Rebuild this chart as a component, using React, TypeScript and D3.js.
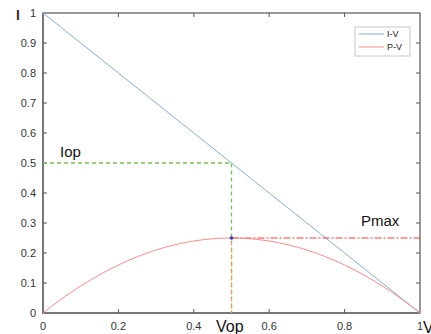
import React, { useRef, useEffect } from "react";
import * as d3 from "d3";

// voltage samples (x) and readings
const voltage = [0, 0.05, 0.1, 0.15, 0.2, 0.25, 0.3, 0.35, 0.4, 0.45, 0.5, 0.55, 0.6, 0.65, 0.7, 0.75, 0.8, 0.85, 0.9, 0.95, 1];
const currentIV = [1, 0.95, 0.9, 0.85, 0.8, 0.75, 0.7, 0.65, 0.6, 0.55, 0.5, 0.45, 0.4, 0.35, 0.3, 0.25, 0.2, 0.15, 0.1, 0.05, 0];
const powerPV = [0, 0.0475, 0.09, 0.1275, 0.16, 0.1875, 0.21, 0.2275, 0.24, 0.2475, 0.25, 0.2475, 0.24, 0.2275, 0.21, 0.1875, 0.16, 0.1275, 0.09, 0.0475, 0];
const xTicks = [0, 0.2, 0.4, 0.6, 0.8, 1];
const yTicks = [0, 0.1, 0.2, 0.3, 0.4, 0.5, 0.6, 0.7, 0.8, 0.9, 1];
const seriesNames = ["I-V", "P-V"];
const vop = 0.5;
const iop = 0.5;
const pmax = 0.25;

const W = 431;
const H = 334;

export default function App() {
  const ref = useRef<SVGSVGElement>(null);

  useEffect(() => {
    const svg = d3.select(ref.current);
    svg.selectAll("*").remove();

    const x = d3.scaleLinear().domain([0, 1]).range([43, 420]);
    const y = d3.scaleLinear().domain([0, 1]).range([313, 13]);
    const font = "'Liberation Sans', Arial, sans-serif";

    // box
    svg.append("rect")
      .attr("x", x(0)).attr("y", y(1))
      .attr("width", x(1) - x(0)).attr("height", y(0) - y(1))
      .attr("fill", "white").attr("stroke", "#555").attr("stroke-width", 1.2);
    // heavier left/bottom axes
    svg.append("path")
      .attr("d", `M${x(0)},${y(1)}V${y(0)}H${x(1)}`)
      .attr("fill", "none").attr("stroke", "#777").attr("stroke-width", 2);

    // ticks (inward) and labels
    xTicks.forEach((t) => {
      if (t > 0 && t < 1) {
        svg.append("line").attr("x1", x(t)).attr("x2", x(t)).attr("y1", y(0)).attr("y2", y(0) - 4).attr("stroke", "#555");
        svg.append("line").attr("x1", x(t)).attr("x2", x(t)).attr("y1", y(1)).attr("y2", y(1) + 4).attr("stroke", "#555");
      }
      svg.append("text")
        .attr("x", x(t)).attr("y", y(0) + 17)
        .attr("text-anchor", "middle").attr("font-family", font)
        .attr("font-size", 11).attr("fill", "#333")
        .text(d3.format("~g")(t));
    });
    yTicks.forEach((t) => {
      if (t > 0 && t < 1) {
        svg.append("line").attr("x1", x(0)).attr("x2", x(0) + 4).attr("y1", y(t)).attr("y2", y(t)).attr("stroke", "#555");
        svg.append("line").attr("x1", x(1)).attr("x2", x(1) - 4).attr("y1", y(t)).attr("y2", y(t)).attr("stroke", "#555");
      }
      svg.append("text")
        .attr("x", 36).attr("y", y(t)).attr("dy", "0.35em")
        .attr("text-anchor", "end").attr("font-family", font)
        .attr("font-size", 11).attr("fill", "#333")
        .text(d3.format("~g")(t));
    });

    const line = d3.line<number>().x((d, i) => x(voltage[i])).y((d) => y(d));

    // I-V
    svg.append("path").attr("d", line(currentIV)).attr("fill", "none")
      .attr("stroke", "#88acd8").attr("stroke-width", 1);

    // guides
    svg.append("path")
      .attr("d", `M${x(0)},${y(iop)}H${x(vop)}V${y(0)}`)
      .attr("fill", "none").attr("stroke", "#7cbf5a").attr("stroke-width", 1.3)
      .attr("stroke-dasharray", "4,3");
    svg.append("line")
      .attr("x1", x(vop)).attr("x2", x(vop)).attr("y1", y(pmax)).attr("y2", y(0))
      .attr("stroke", "#f0a070").attr("stroke-width", 1.3)
      .attr("stroke-dasharray", "4,3").attr("stroke-dashoffset", 3.5);
    svg.append("line")
      .attr("x1", x(vop)).attr("x2", x(1)).attr("y1", y(pmax)).attr("y2", y(pmax))
      .attr("stroke", "#ff3b3b").attr("stroke-width", 1.2)
      .attr("stroke-dasharray", "7,2,2,2");

    // P-V
    svg.append("path").attr("d", line.curve(d3.curveMonotoneX)(powerPV)).attr("fill", "none")
      .attr("stroke", "#ff8a8a").attr("stroke-width", 1);

    svg.append("circle").attr("cx", x(vop)).attr("cy", y(pmax)).attr("r", 1.8).attr("fill", "#4030c0");

    // annotations
    svg.append("text").attr("x", 60).attr("y", 157).attr("font-family", font).attr("font-size", 15).attr("fill", "#111").text("Iop");
    svg.append("text").attr("x", 361).attr("y", 226).attr("font-family", font).attr("font-size", 15).attr("fill", "#111").text("Pmax");
    svg.append("text").attr("x", 216).attr("y", 332).attr("font-family", font).attr("font-size", 16).attr("fill", "#111").text("Vop");
    svg.append("text").attr("x", 423).attr("y", 333).attr("font-family", font).attr("font-size", 16).attr("fill", "#111").text("V");
    svg.append("text").attr("x", 16).attr("y", 20).attr("font-family", font).attr("font-size", 14).attr("font-weight", "bold").attr("fill", "#3a2a20").text("I");

    // legend
    const lg = svg.append("g").attr("transform", "translate(355,27)");
    lg.append("rect").attr("width", 55).attr("height", 29).attr("fill", "white").attr("stroke", "#c8c8c8");
    const colors = ["#88acd8", "#ff8a8a"];
    seriesNames.forEach((n, i) => {
      lg.append("line").attr("x1", 4).attr("x2", 29).attr("y1", 7 + i * 13).attr("y2", 7 + i * 13).attr("stroke", colors[i]);
      lg.append("text").attr("x", 32).attr("y", 7 + i * 13).attr("dy", "0.35em")
        .attr("font-family", font).attr("font-size", 9).attr("fill", "#222").text(n);
    });
  }, []);

  return (
    <svg
      ref={ref}
      width={W}
      height={H}
      style={{ position: "absolute", left: 0, top: 0, background: "white" }}
    />
  );
}
